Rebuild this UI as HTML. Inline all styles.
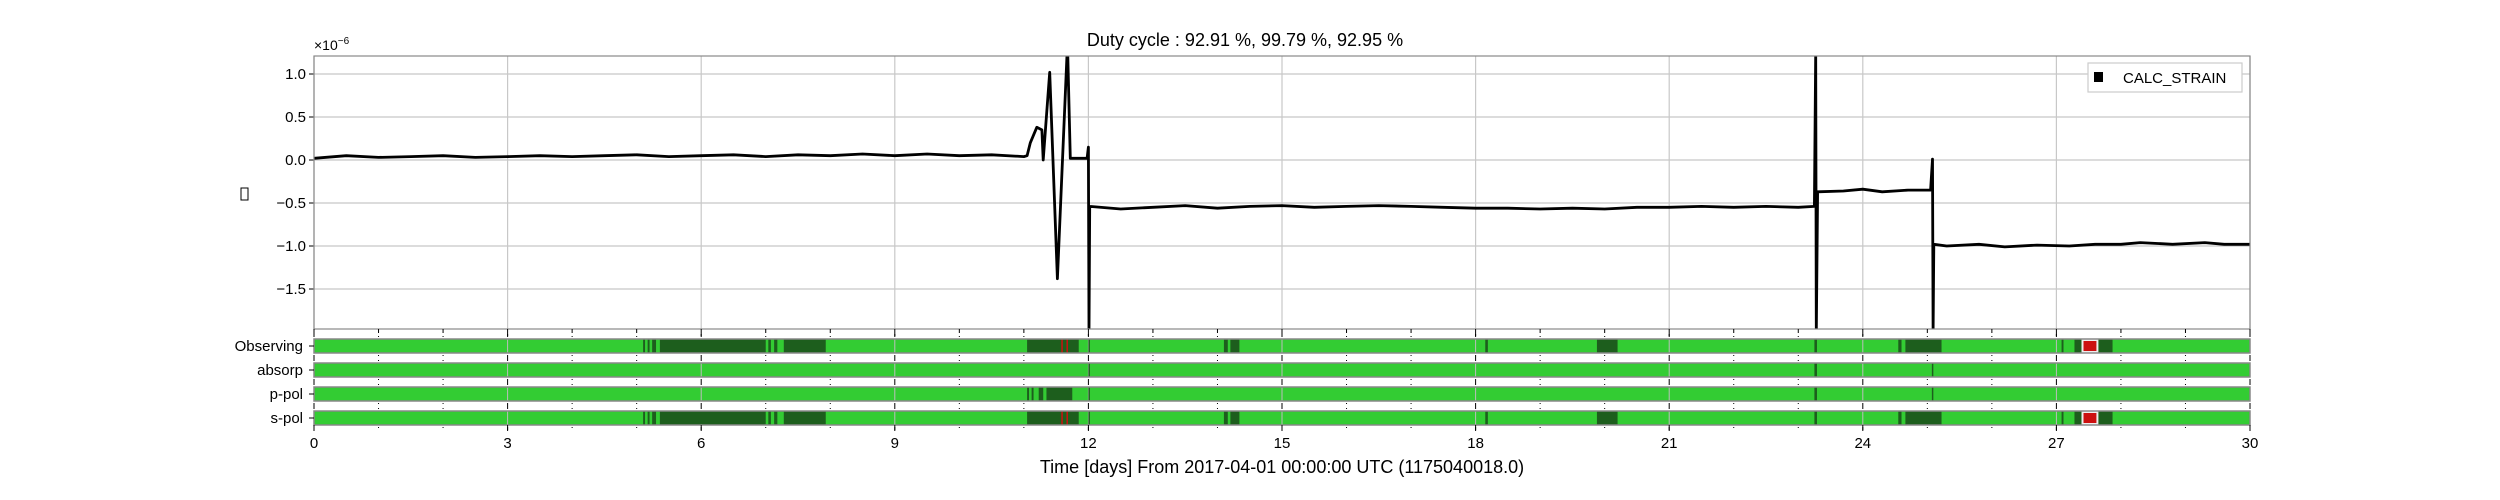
<!DOCTYPE html>
<html><head><meta charset="utf-8"><style>
html,body{margin:0;padding:0;background:#fff;width:2500px;height:500px;overflow:hidden}
svg{display:block;font-family:"Liberation Sans",sans-serif}
</style></head><body>
<svg id="chart" width="2500" height="500" viewBox="0 0 2500 500">
<defs><clipPath id="clipMain"><rect x="314" y="56" width="1936" height="273"/></clipPath></defs>
<text x="1245" y="46" font-size="18" text-anchor="middle">Duty cycle : 92.91 %, 99.79 %, 92.95 %</text>
<text x="314" y="50" font-size="14">×10<tspan dy="-6" font-size="10">−6</tspan></text>
<rect x="241" y="188" width="7" height="12" fill="none" stroke="#000" stroke-width="1"/>
<g id="grid"></g>
<g id="mainLine" clip-path="url(#clipMain)"></g>
<rect x="314" y="56" width="1936" height="273" fill="none" stroke="#888" stroke-width="1.2"/>
<g id="segs"></g>
<g id="xaxis"></g>
<text x="1282" y="473" font-size="18" text-anchor="middle">Time [days] From 2017-04-01 00:00:00 UTC (1175040018.0)</text>
<g>
<rect x="2088" y="63" width="154" height="29" fill="#fff" stroke="#ccc" stroke-width="1.2"/>
<rect x="2094" y="72" width="9" height="10" fill="#000"/>
<text x="2123" y="83" font-size="15">CALC_STRAIN</text>
</g>
</svg>
<script>
const times=[0,0.5,1,1.5,2,2.5,3,3.5,4,4.5,5,5.5,6,6.5,7,7.5,8,8.5,9,9.5,10,10.5,11,11.05,11.1,11.2,11.28,11.3,11.4,11.52,11.67,11.68,11.72,11.98,12.0,12.01,12.02,12.5,13,13.5,14,14.5,15,15.5,16,16.5,17,17.5,18,18.5,19,19.5,20,20.5,21,21.5,22,22.5,23,23.25,23.27,23.28,23.3,23.7,24,24.3,24.7,25.05,25.08,25.09,25.1,25.3,25.8,26.2,26.7,27.2,27.6,28,28.3,28.8,29.3,29.6,30];
const values=[0.02,0.05,0.03,0.04,0.05,0.03,0.04,0.05,0.04,0.05,0.06,0.04,0.05,0.06,0.04,0.06,0.05,0.07,0.05,0.07,0.05,0.06,0.04,0.05,0.2,0.38,0.35,0.0,1.02,-1.38,1.25,1.25,0.02,0.02,0.15,-2.0,-0.54,-0.57,-0.55,-0.53,-0.56,-0.54,-0.53,-0.55,-0.54,-0.53,-0.54,-0.55,-0.56,-0.56,-0.57,-0.56,-0.57,-0.55,-0.55,-0.54,-0.55,-0.54,-0.55,-0.54,1.25,-2.0,-0.37,-0.36,-0.34,-0.37,-0.35,-0.35,0.01,-2.0,-0.98,-1.0,-0.98,-1.01,-0.99,-1.0,-0.98,-0.98,-0.96,-0.98,-0.96,-0.98,-0.98];
const yTicks=[1.0,0.5,0.0,-0.5,-1.0,-1.5];
const yTickLabels=["1.0","0.5","0.0","\u22120.5","\u22121.0","\u22121.5"];
const xTicks=[0,3,6,9,12,15,18,21,24,27,30];
const segNames=["Observing","absorp","p-pol","s-pol"];
const obsDark=[[5.1,5.13],[5.17,5.2],[5.24,5.3],[5.36,7.0],[7.04,7.08],[7.13,7.18],[7.28,7.93],[11.05,11.85],[12.0,12.02],[14.1,14.16],[14.2,14.34],[18.15,18.19],[19.88,20.2],[23.25,23.29],[24.55,24.6],[24.66,25.22],[27.08,27.11],[27.28,27.87]];
const obsRed=[[11.58,11.6],[11.66,11.68],[27.42,27.62]];
const absDark=[[12.0,12.02],[23.25,23.29],[25.07,25.09]];
const pDark=[[11.05,11.08],[11.12,11.15],[11.23,11.3],[11.35,11.75],[12.0,12.02],[23.25,23.29],[25.07,25.09]];
const segDark=[obsDark,absDark,pDark,obsDark];
const segRed=[obsRed,[],[],obsRed];

const X0=314,X1=2250,Y0=160,YS=86;
const xs=t=>X0+(X1-X0)*t/30;
const ys=v=>Y0-v*YS;
const NS="http://www.w3.org/2000/svg";
function mk(tag,attrs,parent){const e=document.createElementNS(NS,tag);for(const k in attrs)e.setAttribute(k,attrs[k]);parent.appendChild(e);return e;}

const grid=document.getElementById('grid');
yTicks.forEach((v,i)=>{
  const g=mk('line',{x1:X0,x2:X1,y1:ys(v),y2:ys(v),stroke:'#c8c8c8','stroke-width':1.2},grid);
  
  
  mk('line',{x1:X0-5,x2:X0,y1:ys(v),y2:ys(v),stroke:'#000'},grid);
  const t=mk('text',{x:X0-8,y:ys(v)+5,'font-size':15,'text-anchor':'end'},grid);
  t.textContent=yTickLabels[i];
  
  
});
xTicks.forEach(d=>{
  const g=mk('line',{x1:xs(d),x2:xs(d),y1:56,y2:329,stroke:'#c8c8c8','stroke-width':1.2},grid);
  
  
});

const mainG=document.getElementById('mainLine');
let dstr='';
times.forEach((t,i)=>{dstr+=(i?'L':'M')+xs(t).toFixed(1)+' '+ys(values[i]).toFixed(1);});
const path=mk('path',{d:dstr,fill:'none',stroke:'#000','stroke-width':2.8,'stroke-linejoin':'round'},mainG);



const segs=document.getElementById('segs');
const barTops=[339,363,387,411],BH=14;
segNames.forEach((name,k)=>{
  const y=barTops[k];
  const bg=mk('rect',{x:X0,y:y,width:X1-X0,height:BH,fill:'#33cc33'},segs);
  
  
  xTicks.forEach(d=>mk('line',{x1:xs(d),x2:xs(d),y1:y,y2:y+BH,stroke:'#bdbdbd','stroke-width':1},segs));
  segDark[k].forEach(s=>{
    const r=mk('rect',{x:xs(s[0]),y:y,width:Math.max(1.5,xs(s[1])-xs(s[0])),height:BH,fill:'#1d5e1d'},segs);
    
    
  });
  segRed[k].forEach(s=>{
    const w=xs(s[1])-xs(s[0]);
    if(w>4) mk('rect',{x:xs(s[0])-2,y:y,width:w+4,height:BH,fill:'#eee'},segs);
    const r=mk('rect',{x:xs(s[0]),y:w>4?y+2:y,width:Math.max(1.5,w),height:w>4?BH-4:BH,fill:'#cc1010'},segs);
    
    
  });
  mk('rect',{x:X0,y:y,width:X1-X0,height:BH,fill:'none',stroke:'#888','stroke-width':1.5},segs);
  for(let d=0;d<=30;d++){
    const len=(d%3===0)?6:4;
    mk('line',{x1:xs(d),x2:xs(d),y1:y-len+1,y2:y-2,stroke:'#000','stroke-width':1},segs);
    mk('line',{x1:xs(d),x2:xs(d),y1:y+BH+2,y2:y+BH+len-1,stroke:'#000','stroke-width':1},segs);
  }
  mk('line',{x1:X0-5,x2:X0,y1:y+BH/2,y2:y+BH/2,stroke:'#000'},segs);
  const t=mk('text',{x:X0-11,y:y+BH/2+5,'font-size':15,'text-anchor':'end'},segs);
  t.textContent=name;
  
  
});
const xa=document.getElementById('xaxis');
for(let d=0;d<=30;d++){
  mk('line',{x1:xs(d),x2:xs(d),y1:329,y2:(d%3===0)?336:333,stroke:'#000'},xa);
}
xTicks.forEach(d=>{
  mk('line',{x1:xs(d),x2:xs(d),y1:425,y2:431,stroke:'#000'},xa);
  const t=mk('text',{x:xs(d),y:448,'font-size':15,'text-anchor':'middle'},xa);
  t.textContent=String(d);
  
  
});
</script>
</body></html>
